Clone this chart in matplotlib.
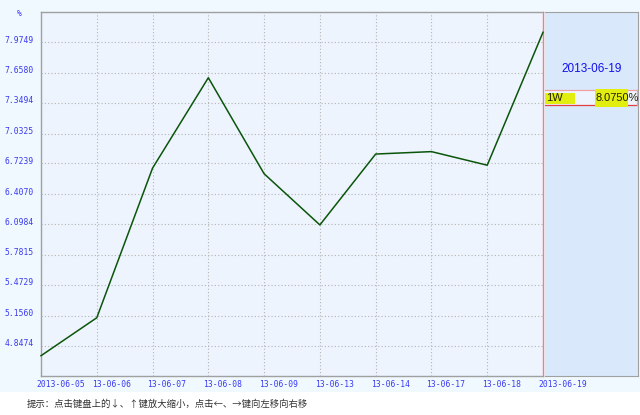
import matplotlib
matplotlib.use("Agg")
import matplotlib.pyplot as plt
from matplotlib.transforms import ScaledTranslation
from matplotlib.patches import Rectangle

# ---- data ----
dates = ['2013-06-05', '13-06-06', '13-06-07', '13-06-08', '13-06-09',
         '13-06-13', '13-06-14', '13-06-17', '13-06-18', '2013-06-19']
values = [4.744, 5.135, 6.676, 7.607, 6.618, 6.091, 6.821, 6.846, 6.706, 8.075]
ytick_labels = ['4.8474', '5.1560', '5.4729', '5.7815', '6.0984', '6.4070',
                '6.7239', '7.0325', '7.3494', '7.6580', '7.9749']
ytick_values = [float(v) for v in ytick_labels]
panel_date = '2013-06-19'
panel_term = '1W'
panel_value = '8.0750%'
hint = '提示：点击键盘上的↓、↑键放大缩小，点击←、→键向左移向右移'

W, H = 640, 415
DPI = 100
fig = plt.figure(figsize=(W / DPI, H / DPI), dpi=DPI, facecolor='#f0f9ff')

def fx(px):
    return px / W

def fy(py):
    return 1 - py / H

# white strip at bottom
fig.patches.append(Rectangle((0, 0), 1, fy(392), transform=fig.transFigure,
                             facecolor='white', edgecolor='none', zorder=0))

# ---- main axes ----
L, R, T, B = 41, 543, 12, 376
ax = fig.add_axes([fx(L), fy(B), fx(R - L), (B - T) / H])
ax.set_facecolor('#eef4fe')
x = list(range(len(values)))
ax.plot(x, values, color='#0a550a', lw=1.1, zorder=3, clip_on=False)
ax.set_xlim(0, len(values) - 1)
ax.set_ylim(4.535, 8.284)

grid_kw = dict(color='#b4b4b4', lw=0.8, ls=(0, (1, 2)), zorder=1)
for xi in x[1:-1]:
    ax.axvline(xi, **grid_kw)
for yv in ytick_values:
    ax.axhline(yv, **grid_kw)

for s in ['left', 'top', 'bottom']:
    ax.spines[s].set_color('#a0a0a0')
    ax.spines[s].set_linewidth(1.0)
ax.spines['right'].set_color('#f08080')
ax.spines['right'].set_linewidth(1.0)

lab_color = '#3a3af0'
ax.set_xticks(x)
ax.set_xticklabels(dates, family='DejaVu Sans Mono', fontsize=5.8, color=lab_color)
ax.set_yticks(ytick_values)
ax.set_yticklabels(ytick_labels, family='DejaVu Sans Mono', fontsize=5.8, color=lab_color)
ax.tick_params(axis='both', length=0)
ax.tick_params(axis='x', pad=3)
ax.tick_params(axis='y', pad=5)
for lab in ax.get_xticklabels():
    lab.set_ha('left')
    lab.set_transform(lab.get_transform() + ScaledTranslation(-5 / DPI, 0, fig.dpi_scale_trans))
for lab in ax.get_yticklabels():
    lab.set_transform(lab.get_transform() + ScaledTranslation(0, 3 / DPI, fig.dpi_scale_trans))

fig.text(fx(19), fy(13), '%', ha='center', va='center', fontsize=5.8,
         family='DejaVu Sans Mono', color=lab_color)

# ---- right panel ----
PL, PR = 545, 638
pax = fig.add_axes([fx(PL), fy(B), fx(PR - PL), (B - T) / H])
pax.set_facecolor('#d9e9fb')
pax.set_xlim(PL, PR)
pax.set_ylim(B, T)
pax.set_xticks([])
pax.set_yticks([])
for s in ['top', 'right', 'bottom']:
    pax.spines[s].set_color('#a0a0a0')
pax.spines['left'].set_visible(False)

pax.text((PL + PR) / 2, 69, panel_date, ha='center', va='center', fontsize=8.5,
         family='Liberation Sans', color='#1010ee')
# row
pax.add_patch(Rectangle((PL, 90), PR - PL - 1, 15.5, facecolor='#eef4fe',
                        edgecolor='none', zorder=1))
pax.plot([PL, PR - 1], [90, 90], color='#f0a0a0', lw=0.9, zorder=2)
pax.plot([PL, PR - 1], [105.5, 105.5], color='#e04040', lw=0.9, zorder=2)
pax.plot([PR - 1.5, PR - 1.5], [90, 105.5], color='#f0a0a0', lw=0.9, zorder=2)
pax.add_patch(Rectangle((PL, 93.5), 30, 10.5, facecolor='#e2ee10',
                        edgecolor='none', zorder=2))
pax.add_patch(Rectangle((595, 89.5), 32.5, 17.5, facecolor='#e2ee10',
                        edgecolor='none', zorder=2))
pax.text(PL + 1, 98, panel_term, ha='left', va='center', fontsize=8,
         family='Liberation Sans', color='#202000', zorder=3)
pax.text(596, 98, panel_value, ha='left', va='center', fontsize=7.9,
         family='Liberation Sans', color='#202000', zorder=3, clip_on=False)

# ---- hint ----
fig.text(fx(27), fy(404.5), hint, ha='left', va='center', fontsize=6.75,
         family=['Noto Sans CJK SC', 'DejaVu Sans'], color='#303030')

fig.savefig('out.png', dpi=DPI, facecolor=fig.get_facecolor())
